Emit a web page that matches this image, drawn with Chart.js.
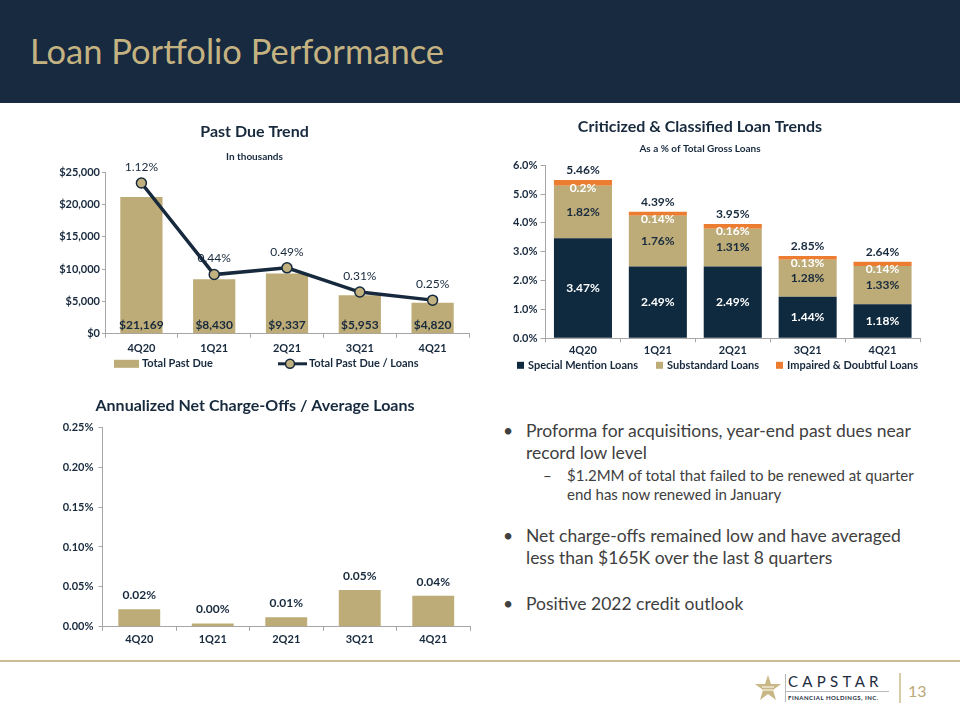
<!DOCTYPE html>
<html>
<head>
<meta charset="utf-8">
<title>Loan Portfolio Performance</title>
<script src="https://cdn.jsdelivr.net/npm/chart.js@4.4.1/dist/chart.umd.min.js"></script>
<style>
  html, body { margin: 0; padding: 0; background: #fff; }
  body { width: 960px; height: 720px; position: relative; overflow: hidden; font-family: Lato, "Noto Sans", sans-serif; }
  .header { position: absolute; left: 0; top: 0; width: 960px; height: 103px; background: #172a40; }
  .header h1 { position: absolute; left: 30px; top: 30px; margin: 0; font-weight: 400; font-size: 34.5px; color: #c4b381; white-space: nowrap; }
  canvas { position: absolute; }
  .bullet { position: absolute; color: #404040; white-space: nowrap; }
  .bullet.main { font-size: 17.5px; line-height: 22px; }
  .bullet.sub { font-size: 15px; line-height: 18.5px; }
  .mark { position: absolute; }
  .rule { position: absolute; left: 0; top: 660px; width: 960px; height: 2px; background: #cbbd93; }
  .logo-word { position: absolute; left: 788px; top: 672px; font-size: 15px; letter-spacing: 4.3px; color: #1d2c3e; font-weight: 400; }
  .logo-sub { position: absolute; left: 788px; top: 694px; font-size: 6px; letter-spacing: 0.5px; color: #1d2c3e; font-weight: 700; white-space: nowrap; }
  .logo-hline { position: absolute; left: 785px; top: 691px; width: 104px; height: 1px; background: #b9b9b9; }
  .logo-vline { position: absolute; left: 785px; top: 674px; width: 1px; height: 28px; background: #b9b9b9; }
  .sep { position: absolute; left: 899px; top: 673px; width: 2px; height: 30px; background: #d8cca8; }
  .page { position: absolute; left: 908px; top: 681px; font-size: 16px; color: #bba978; }
</style>
</head>
<body>
<div class="header"><h1>Loan Portfolio Performance</h1></div>

<canvas id="pastDueChart" width="440" height="268" style="left:40px; top:115px;"></canvas>
<canvas id="criticizedChart" width="460" height="268" style="left:480px; top:115px;"></canvas>
<canvas id="ncoChart" width="440" height="262" style="left:40px; top:390px;"></canvas>

<div class="bullet main" style="left:503px; top:420px;">•</div>
<div class="bullet main" style="left:526px; top:420px;">Proforma for acquisitions, year-end past dues near<br>record low level</div>
<div class="bullet sub" style="left:543px; top:466px;">–</div>
<div class="bullet sub" style="left:567px; top:466px;">$1.2MM of total that failed to be renewed at quarter<br>end has now renewed in January</div>
<div class="bullet main" style="left:503px; top:525px;">•</div>
<div class="bullet main" style="left:526px; top:525px;">Net charge-offs remained low and have averaged<br>less than $165K over the last 8 quarters</div>
<div class="bullet main" style="left:503px; top:593px;">•</div>
<div class="bullet main" style="left:526px; top:593px;">Positive 2022 credit outlook</div>

<div class="rule"></div>
<svg class="mark" style="left:755px; top:675px;" width="26" height="25" viewBox="0 0 26 25">
  <polygon points="13,0 16,9 26,9 18,15 21,25 13,19 5,25 8,15 0,9 10,9" fill="#c8b886"/>
  <line x1="7" y1="12" x2="19" y2="12" stroke="#fff" stroke-width="1"/>
  <line x1="8" y1="15" x2="18" y2="15" stroke="#fff" stroke-width="1"/>
</svg>
<div class="logo-vline"></div>
<div class="logo-word">CAPSTAR</div>
<div class="logo-hline"></div>
<div class="logo-sub">FINANCIAL HOLDINGS, INC.</div>
<div class="sep"></div>
<div class="page">13</div>

<script>
// ---- data ----
const quarters = ['4Q20', '1Q21', '2Q21', '3Q21', '4Q21'];

// Past Due Trend (in thousands) and past due / loans (%)
const pastDue = [21169, 8430, 9337, 5953, 4820];
const pastDueRatio = [1.12, 0.44, 0.49, 0.31, 0.25];
const pastDueTicks = [0, 5000, 10000, 15000, 20000, 25000];

// Criticized & classified, % of total gross loans
const specialMention = [3.47, 2.49, 2.49, 1.44, 1.18];
const substandard = [1.82, 1.76, 1.31, 1.28, 1.33];
const impairedDoubtful = [0.2, 0.14, 0.16, 0.13, 0.14];
const criticizedTotal = [5.46, 4.39, 3.95, 2.85, 2.64];

// Annualized net charge-offs / average loans (%)
const netChargeOffs = [0.022, 0.004, 0.012, 0.046, 0.039];

// ---- styles ----
const NAVY = '#17293d';
const BAR_NAVY = '#0f293f';
const TAN = '#bdac77';
const ORANGE = '#ec7c30';
const AXIS = '#a6a6a6';
const FONT = 'Lato, "Noto Sans", sans-serif';

Chart.defaults.font.family = FONT;
Chart.defaults.font.size = 11;
Chart.defaults.font.weight = 'bold';
Chart.defaults.color = NAVY;
Chart.defaults.animation = false;
Chart.defaults.responsive = false;
Chart.defaults.plugins.tooltip.enabled = false;

function axisX(pad) {
  return {
    grid: { drawOnChartArea: false, tickLength: 4, color: AXIS },
    border: { color: AXIS, width: 1 },
    ticks: { padding: pad, color: NAVY }
  };
}

function text(ctx, str, x, y, color, weight, size) {
  ctx.save();
  ctx.font = (weight || 'bold') + ' ' + (size || 11) + 'px ' + FONT;
  ctx.fillStyle = color;
  ctx.textAlign = 'center';
  ctx.textBaseline = 'middle';
  ctx.fillText(str, x, y);
  ctx.restore();
}

function legendText(ctx, str, x, y) {
  ctx.save();
  ctx.font = 'bold 11px ' + FONT;
  ctx.fillStyle = NAVY;
  ctx.textAlign = 'left';
  ctx.textBaseline = 'middle';
  ctx.fillText(str, x, y);
  ctx.restore();
}

// ==========================================
// 1. Past Due Trend
// ==========================================
const pastDueLabels = {
  id: 'pastDueLabels',
  afterDatasetsDraw(chart) {
    const ctx = chart.ctx;
    const zero = chart.scales.y.getPixelForValue(0);
    chart.getDatasetMeta(0).data.forEach((bar, i) => {
      text(ctx, '$' + pastDue[i].toLocaleString('en-US'), bar.x, zero - 9, NAVY, 'bold', 12);
    });
    chart.getDatasetMeta(1).data.forEach((pt, i) => {
      text(ctx, pastDueRatio[i].toFixed(2) + '%', pt.x, pt.y - 16, NAVY, 'normal', 12);
    });
  },
  afterDraw(chart) {
    // legend below the axis
    const ctx = chart.ctx;
    const left = chart.chartArea.left;
    const y = chart.chartArea.bottom + 30;
    const sets = chart.data.datasets;
    ctx.save();
    ctx.fillStyle = TAN;
    ctx.fillRect(left + 9, y - 4, 25, 8);
    ctx.strokeStyle = NAVY;
    ctx.lineWidth = 3;
    ctx.beginPath();
    ctx.moveTo(left + 173, y);
    ctx.lineTo(left + 202, y);
    ctx.stroke();
    ctx.beginPath();
    ctx.arc(left + 185, y, 4.5, 0, Math.PI * 2);
    ctx.fillStyle = '#c1b17f';
    ctx.fill();
    ctx.lineWidth = 1.5;
    ctx.stroke();
    ctx.restore();
    legendText(ctx, sets[0].label, left + 37, y);
    legendText(ctx, sets[1].label, left + 204, y);
  }
};

new Chart(document.getElementById('pastDueChart'), {
  data: {
    labels: quarters,
    datasets: [
      {
        type: 'bar',
        label: 'Total Past Due',
        data: pastDue,
        backgroundColor: TAN,
        barPercentage: 0.58,
        categoryPercentage: 1,
        yAxisID: 'y',
        order: 2
      },
      {
        type: 'line',
        label: 'Total Past Due / Loans',
        data: pastDueRatio,
        borderColor: NAVY,
        borderWidth: 3.5,
        pointRadius: 5,
        pointBackgroundColor: '#c1b17f',
        pointBorderColor: NAVY,
        pointBorderWidth: 1.5,
        yAxisID: 'y2',
        order: 1
      }
    ]
  },
  options: {
    layout: { padding: { right: 11, bottom: 24 } },
    plugins: {
      legend: { display: false },
      title: {
        display: true, text: 'Past Due Trend', color: NAVY,
        font: { size: 16, weight: 'bold' }, padding: { top: 7, bottom: 3 }
      },
      subtitle: {
        display: true, text: 'In thousands', color: NAVY,
        font: { size: 10, weight: 'bold' }, padding: { top: 7, bottom: 9 }
      }
    },
    scales: {
      x: axisX(4),
      y: {
        min: 0, max: 25000,
        afterBuildTicks: s => { s.ticks = pastDueTicks.map(v => ({ value: v })); },
        ticks: { padding: 2, color: NAVY, callback: v => '$' + v.toLocaleString('en-US') },
        grid: { drawOnChartArea: false, tickLength: 3, color: AXIS },
        border: { color: AXIS },
        afterFit: s => { s.width = 65; }
      },
      y2: { display: false, min: 0, max: 1.2 }
    }
  },
  plugins: [pastDueLabels]
});

// ==========================================
// 2. Criticized & Classified Loan Trends
// ==========================================
const criticizedLabels = {
  id: 'criticizedLabels',
  afterDatasetsDraw(chart) {
    const ctx = chart.ctx;
    const colors = ['#ffffff', NAVY, '#ffffff'];
    chart.data.datasets.forEach((ds, di) => {
      chart.getDatasetMeta(di).data.forEach((bar, i) => {
        const mid = (bar.y + bar.base) / 2;
        const y = di === 2 ? mid + 5 : mid;
        text(ctx, ds.data[i] + '%', bar.x, y, colors[di], 'bold', 12);
      });
    });
    chart.getDatasetMeta(2).data.forEach((bar, i) => {
      text(ctx, criticizedTotal[i].toFixed(2) + '%', bar.x, bar.y - 10, NAVY, 'bold', 12);
    });
  },
  afterDraw(chart) {
    // legend: square box + label for each series
    const ctx = chart.ctx;
    const y = chart.chartArea.bottom + 27;
    const boxX = [37, 176, 296];
    chart.data.datasets.forEach((ds, i) => {
      ctx.fillStyle = ds.backgroundColor;
      ctx.fillRect(boxX[i], y - 3.5, 7, 7);
      legendText(ctx, ds.label, boxX[i] + 11, y);
    });
  }
};

new Chart(document.getElementById('criticizedChart'), {
  type: 'bar',
  data: {
    labels: quarters,
    datasets: [
      { label: 'Special Mention Loans', data: specialMention, backgroundColor: BAR_NAVY },
      { label: 'Substandard Loans', data: substandard, backgroundColor: TAN },
      { label: 'Impaired & Doubtful Loans', data: impairedDoubtful, backgroundColor: ORANGE }
    ]
  },
  options: {
    datasets: { bar: { barPercentage: 0.775, categoryPercentage: 1 } },
    layout: { padding: { right: 20, bottom: 23.5 } },
    plugins: {
      legend: { display: false },
      title: {
        display: true, text: 'Criticized & Classified Loan Trends', color: NAVY,
        font: { size: 16, weight: 'bold' }, padding: { top: 2, bottom: 4 }
      },
      subtitle: {
        display: true, text: 'As a % of Total Gross Loans', color: NAVY,
        font: { size: 10, weight: 'bold' }, padding: { top: 3, bottom: 10 }
      }
    },
    scales: {
      x: Object.assign(axisX(2), { stacked: true }),
      y: {
        stacked: true, min: 0, max: 6,
        ticks: { stepSize: 1, padding: 3, color: NAVY, callback: v => v.toFixed(1) + '%' },
        grid: { drawOnChartArea: false, tickLength: 5, color: AXIS },
        border: { color: AXIS },
        afterFit: s => { s.width = 65.5; }
      }
    }
  },
  plugins: [criticizedLabels]
});

// ==========================================
// 3. Annualized Net Charge-Offs / Average Loans
// ==========================================
const ncoLabels = {
  id: 'ncoLabels',
  afterDatasetsDraw(chart) {
    const ctx = chart.ctx;
    chart.getDatasetMeta(0).data.forEach((bar, i) => {
      text(ctx, netChargeOffs[i].toFixed(2) + '%', bar.x, bar.y - 14, NAVY, 'bold', 12);
    });
  }
};

new Chart(document.getElementById('ncoChart'), {
  type: 'bar',
  data: {
    labels: quarters,
    datasets: [
      { label: 'Net Charge-Offs / Average Loans', data: netChargeOffs, backgroundColor: TAN, barPercentage: 0.57, categoryPercentage: 1 }
    ]
  },
  options: {
    layout: { padding: { right: 10, bottom: 4 } },
    plugins: {
      legend: { display: false },
      title: {
        display: true, text: 'Annualized Net Charge-Offs / Average Loans', color: NAVY,
        font: { size: 16, weight: 'bold' }, padding: { top: 6, bottom: 12 }
      }
    },
    scales: {
      x: axisX(2),
      y: {
        min: 0, max: 0.25,
        ticks: { stepSize: 0.05, padding: 5, color: NAVY, callback: v => v.toFixed(2) + '%' },
        grid: { drawOnChartArea: false, tickLength: 4, color: AXIS },
        border: { color: AXIS },
        afterFit: s => { s.width = 62.5; }
      }
    }
  },
  plugins: [ncoLabels]
});
</script>
</body>
</html>
